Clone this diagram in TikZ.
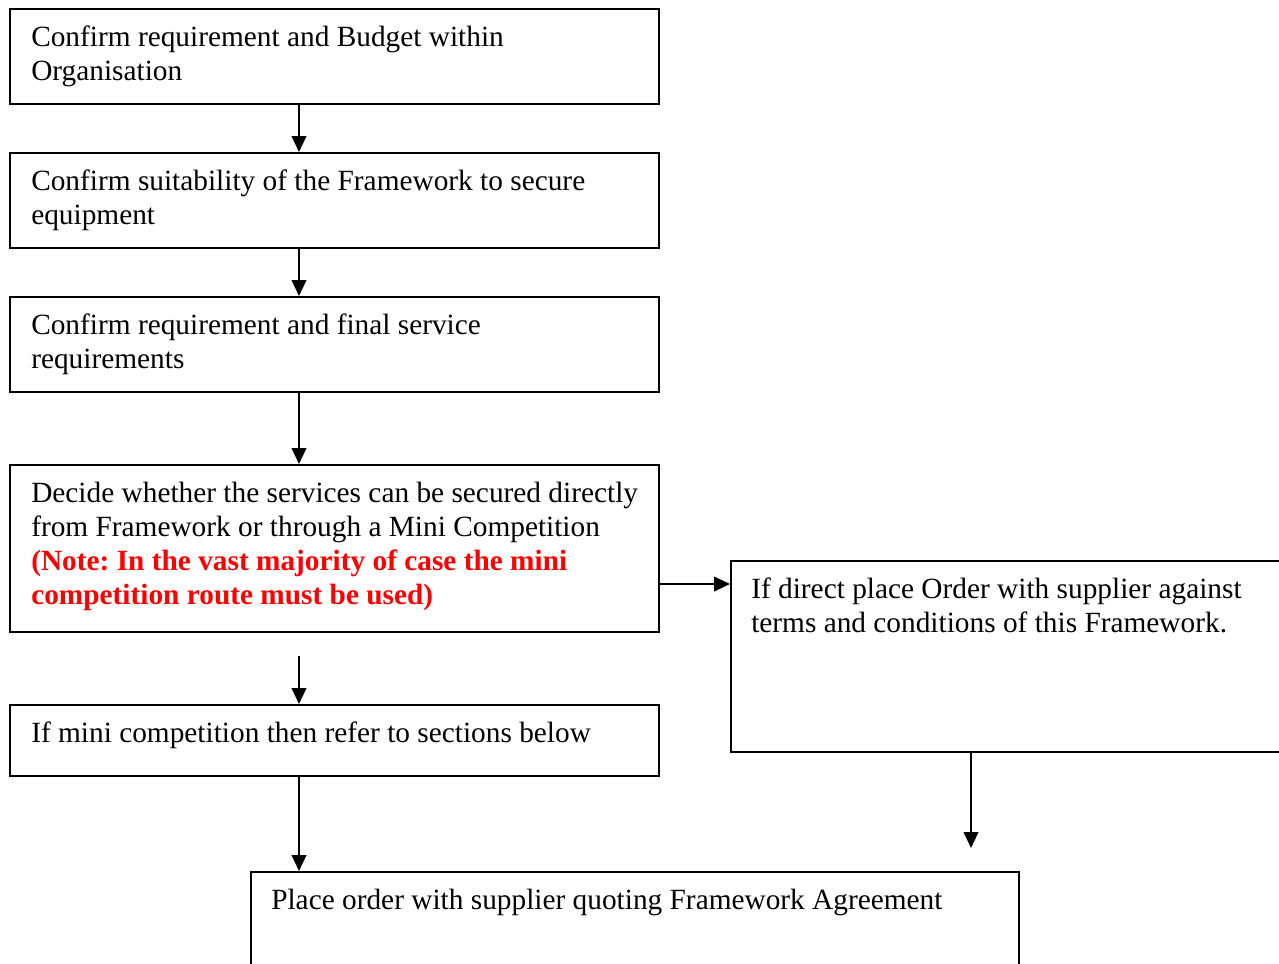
\documentclass[tikz,border=0pt]{standalone}
\usepackage{fontspec}
\setmainfont{Liberation Serif}
\frenchspacing
\usetikzlibrary{arrows.meta,fit}
\definecolor{notered}{RGB}{255,0,0}
\begin{document}
\begin{tikzpicture}[x=0.75pt,y=-0.75pt,
  box/.style={draw=black,line width=1.5pt,inner sep=0pt},
  txt/.style={anchor=north west,inner sep=0pt,align=left,font=\fontsize{22}{25.5}\selectfont},
  arr/.style={line width=1.5pt,-{Triangle[length=12pt,width=11pt]}}]
\useasboundingbox (0,0) rectangle (1279,964);
\clip (0,0) rectangle (1279,964);
% boxes
\node[box,fit={(10,9) (659,104)}] (b1) {};
\node[box,fit={(10,153) (659,248)}] (b2) {};
\node[box,fit={(10,297) (659,392)}] (b3) {};
\node[box,fit={(10,465) (659,632)}] (b4) {};
\node[box,fit={(10,705) (659,776)}] (b5) {};
\node[box,fit={(731,561) (1295,752)}] (b6) {};
\node[box,fit={(251,872) (1019,990)}] (b7) {};
% texts
\node[txt] (t1) at (31,22) {\strut Confirm requirement and Budget within\\Organisation};
\node[txt] (t2) at (31,166) {\strut Confirm suitability of the Framework to secure\\equipment};
\node[txt] (t3) at (31,310) {\strut Confirm requirement and final service\\requirements};
\node[txt] (t4) at (31,478) {\strut Decide whether the services can be secured directly\\from Framework or through a Mini Competition\\\textcolor{notered}{\bfseries (Note: In the vast majority of case the mini}\\\textcolor{notered}{\bfseries competition route must be used)}};
\node[txt] (t5) at (31,718) {\strut If mini competition then refer to sections below};
\node[txt] (t6) at (751,574) {\strut If direct place Order with supplier against\\terms and conditions of this Framework.};
\node[txt] (t7) at (271,885) {\strut Place order with supplier quoting Framework Agreement};
% helper coordinates
\coordinate (ax) at (299,0);
\coordinate (ay) at (0,584);
\coordinate (s4) at (299,656);
\coordinate (e7) at (971,848);
% connectors
\draw[arr] (b1.south -| ax) -- (b2.north -| ax);
\draw[arr] (b2.south -| ax) -- (b3.north -| ax);
\draw[arr] (b3.south -| ax) -- (b4.north -| ax);
\draw[arr] (s4) -- (b5.north -| ax);
\draw[arr] (b5.south -| ax) -- (b7.north -| ax);
\draw[arr] (b4.east |- ay) -- (b6.west |- ay);
\draw[arr] (b6.south -| e7) -- (e7);
\end{tikzpicture}
\end{document}
